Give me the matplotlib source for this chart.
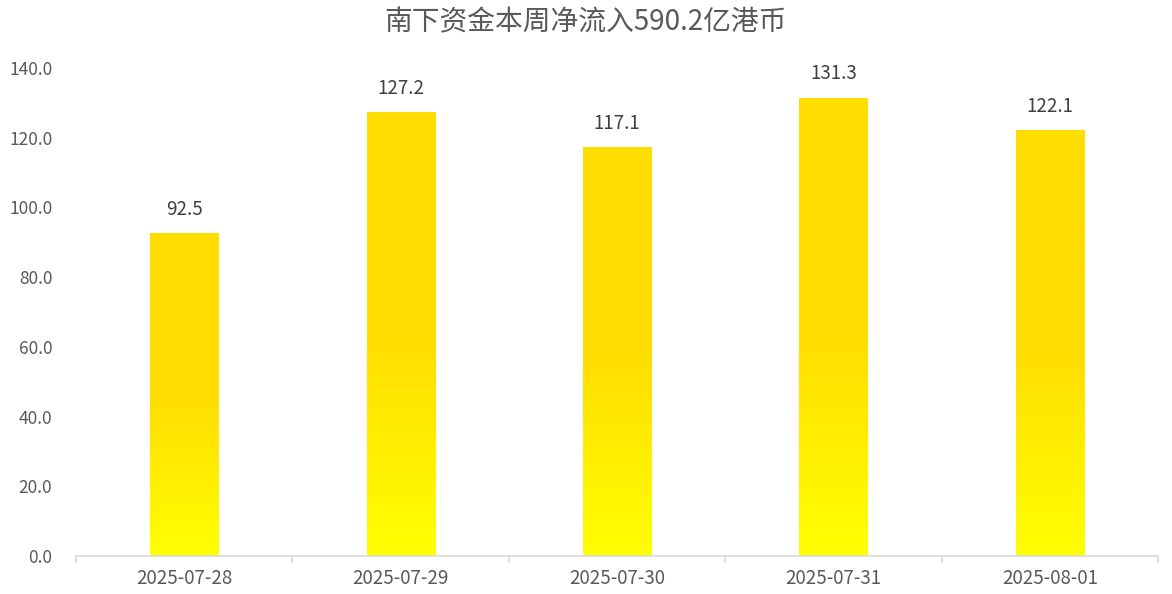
import matplotlib.pyplot as plt
import numpy as np
from matplotlib.colors import LinearSegmentedColormap

plt.rcParams['font.family'] = ['Noto Sans CJK SC', 'DejaVu Sans']

dates = ["2025-07-28", "2025-07-29", "2025-07-30", "2025-07-31", "2025-08-01"]
inflow = [92.5, 127.2, 117.1, 131.3, 122.1]
title = "南下资金本周净流入590.2亿港币"

grey = "#595959"
cmap = LinearSegmentedColormap.from_list(
    "gold", [(0.0, "#FFFF00"), (0.5, "#FFDD00"), (1.0, "#FFDD00")])

fig = plt.figure(figsize=(11.72, 5.94), dpi=100)
ax = fig.add_axes([76 / 1172, 38 / 594, (1158 - 76) / 1172, (556 - 68) / 594])

x = np.arange(len(dates))
width = 0.315
bars = ax.bar(x, inflow, width=width, color="none", zorder=2)

# vertical gradient inside each bar
grad = np.linspace(0, 1, 256).reshape(-1, 1)
for rect in bars:
    x0, h = rect.get_x(), rect.get_height()
    ax.imshow(grad, cmap=cmap, origin="lower", aspect="auto",
              extent=[x0, x0 + rect.get_width(), 0, h], zorder=1)

for xi, v in zip(x, inflow):
    ax.annotate(f"{v:.1f}", (xi, v), xytext=(0, 10), textcoords="offset points",
                ha="center", va="bottom", fontsize=13.5, color="#404040")

ax.set_xlim(-0.5, len(dates) - 0.5)
ax.set_ylim(0, 140)
ax.set_yticks(np.arange(0, 141, 20))
ax.set_yticklabels([f"{t:.1f}" for t in np.arange(0, 141, 20)])
ax.set_xticks(x)
ax.set_xticklabels(dates)
ax.set_xticks(np.arange(-0.5, len(dates), 1), minor=True)

for s in ["top", "right", "left"]:
    ax.spines[s].set_visible(False)
ax.spines["bottom"].set_color("#d9d9d9")
ax.spines["bottom"].set_linewidth(1.2)

ax.tick_params(axis="x", which="major", length=0, pad=9, labelsize=13.5, labelcolor=grey)
ax.tick_params(axis="x", which="minor", length=5, color="#d9d9d9", width=1.2)
ax.tick_params(axis="y", length=0, pad=17, labelsize=12.5, labelcolor=grey)

fig.text(0.5, 1 - 22 / 594, title, ha="center", va="center", fontsize=20, color=grey)

fig.savefig("out.png", dpi=100)
